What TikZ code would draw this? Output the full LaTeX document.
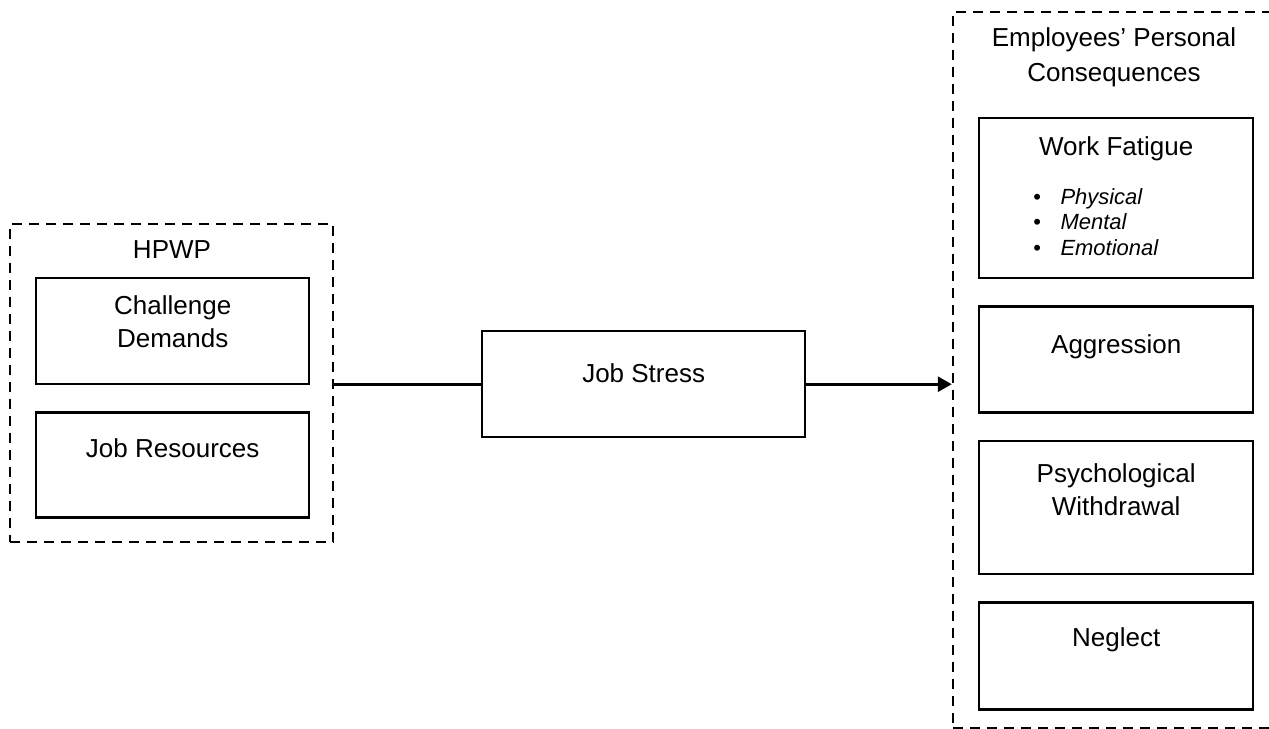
\documentclass[tikz,border=0pt]{standalone}
\usepackage{fontspec}
\setmainfont{Liberation Sans}
\usetikzlibrary{positioning,fit,arrows.meta}

\begin{document}
\begin{tikzpicture}
  [x=0.02cm, y=-0.02cm, node distance=0.52cm,
   cell/.style={draw, line width=1.4pt, minimum width=5.48cm, inner sep=0pt},
   group/.style={draw, line width=1.4pt, dash pattern=on 0.2cm off 0.14cm, inner sep=0pt},
   txt/.style={font=\fontsize{14.8}{18.5}\selectfont, align=center, inner sep=0pt},
   link/.style={line width=1.7pt}]
  \useasboundingbox (0,0) rectangle (1269,729);
  \clip (0,0) rectangle (1269,729);

  % HPWP group
  \node[group, fit={(10,224) (333,542)}] (hpwp) {};
  \node[txt] (hpwpt) at (172,250) {HPWP};
  \node[cell, minimum width=5.46cm, minimum height=2.12cm, anchor=north west] (cd) at (35,277) {};
  \node[cell, minimum width=5.46cm, minimum height=2.1cm, below=of cd] (jr) {};
  \node[txt] (cdt) at ([yshift=0.19cm]cd.center) {Challenge\\Demands};
  \node[txt] (jrt) at ([yshift=0.34cm]jr.center) {Job Resources};

  % mediator
  \node[cell, minimum width=6.46cm, minimum height=2.12cm, anchor=north west] (js) at (481,330) {};
  \node[txt] (jst) at ([yshift=0.22cm]js.center) {Job Stress};

  % consequences group
  \node[group, fit={(953,12) (1290,728)}] (cons) {};
  \node[txt, font=\fontsize{14.8}{19.8}\selectfont] (const) at (1114,57) {Employees' Personal\\Consequences};
  \node[cell, minimum height=3.2cm, anchor=north west] (fat) at (978,117) {};
  \node[cell, minimum height=2.12cm, below=of fat] (agg) {};
  \node[cell, minimum height=2.66cm, below=of agg] (psy) {};
  \node[cell, minimum height=2.14cm, below=of psy] (neg) {};
  \node[txt] (fatt) at ([yshift=-0.64cm]fat.north) {Work Fatigue};
  \node[txt, font=\fontsize{12.5}{14.7}\selectfont, align=left, anchor=west] (fatl) at (1033,222)
    {\textbullet\hspace{0.39cm}\textit{Physical}\\
     \textbullet\hspace{0.39cm}\textit{Mental}\\
     \textbullet\hspace{0.39cm}\textit{Emotional}};
  \node[txt] (aggt) at ([yshift=0.26cm]agg.center) {Aggression};
  \node[txt] (psyt) at ([yshift=0.36cm]psy.center) {Psychological\\Withdrawal};
  \node[txt] (negt) at ([yshift=0.33cm]neg.center) {Neglect};

  \draw[link] (hpwp.east |- js.west) -- (js.west);
  \draw[link, -{Triangle[length=0.28cm, width=0.3cm]}] (js.east) -- (js.east -| cons.west);
\end{tikzpicture}
\end{document}
